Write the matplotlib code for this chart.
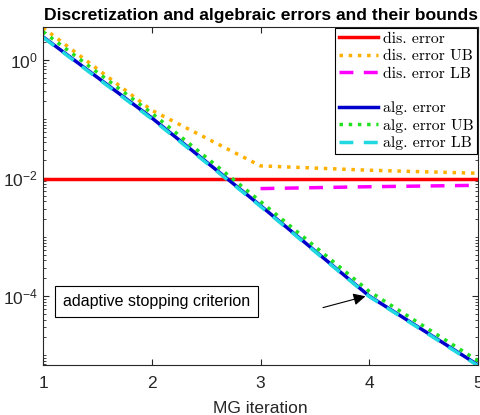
import matplotlib.pyplot as plt
import numpy as np
from matplotlib.ticker import LogLocator, NullFormatter

plt.rcParams['font.family'] = ['Liberation Sans', 'DejaVu Sans']

it = [1, 2, 3, 4, 5]
dis_err = [0.0095, 0.0095, 0.0095, 0.0095, 0.0095]
dis_ub = [3.5, 0.14, 0.016, 0.0135, 0.012]
lb_it = [3, 4, 5]
dis_lb = [0.0066, 0.0071, 0.0075]
alg_err = [2.45, 0.104, 3.4e-3, 1.0e-4, 6.8e-6]
alg_ub = [3.0, 0.125, 4.0e-3, 1.2e-4, 8.0e-6]
alg_lb = [2.4, 0.1, 3.3e-3, 0.98e-4, 6.6e-6]

fig = plt.figure(figsize=(4.81, 4.15), dpi=100)
ax = fig.add_axes([0.0894, 0.1205, 0.9044, 0.8145])

ax.semilogy(it, dis_err, color='red', lw=2.5, label='dis. error')
ax.semilogy(it, dis_ub, color='#FFB000', lw=2.5, ls=':', label='dis. error UB')
ax.semilogy(lb_it, dis_lb, color='#FF00FF', lw=2.5, ls=(0, (4, 3)), label='dis. error LB')
ax.plot([], [], color='none', label=' ')
ax.semilogy(it, alg_err, color='#0000CC', lw=2.5, label='alg. error')
ax.semilogy(it, alg_ub, color='#20E020', lw=2.5, ls=':', label='alg. error UB')
ax.semilogy(it, alg_lb, color='#20D8E0', lw=2.5, ls=(0, (4, 3)), label='alg. error LB')

ax.set_xlim(1, 5)
ax.set_ylim(6.8e-6, 3.6)
ax.set_xticks(it)
ax.yaxis.set_major_locator(LogLocator(base=100))
ax.yaxis.set_minor_locator(LogLocator(base=10, subs=np.arange(1, 10)))
ax.yaxis.set_minor_formatter(NullFormatter())
ax.tick_params(which='both', direction='in', top=True, right=True, labelsize=12.5,
               colors='#262626')
ax.tick_params(axis='x', pad=8)
ax.tick_params(which='major', length=4)
ax.tick_params(which='minor', length=2)
for s in ax.spines.values():
    s.set_color('#262626')

ax.set_xlabel('MG iteration', fontsize=12.5, color='#262626', labelpad=7)
ax.set_title('Discretization and algebraic errors and their bounds', fontsize=12.6,
             fontweight='bold', pad=5)

leg = ax.legend(loc='upper right', prop={'family': 'cmr10', 'size': 11.3}, handlelength=2.5,
                handletextpad=0.3, borderpad=0.25, labelspacing=0.22, borderaxespad=0.05,
                fancybox=False, framealpha=1)
leg.get_frame().set_edgecolor('black')
leg.get_frame().set_linewidth(0.8)

ax.text(1.185, 0.8e-4, 'adaptive stopping criterion', fontsize=11.5, va='center', ha='left',
        bbox=dict(boxstyle='square,pad=0.5', fc='white', ec='black', lw=0.8))
ax.annotate('', xy=(3.99, 1.02e-4), xytext=(3.55, 6.2e-5),
            arrowprops=dict(arrowstyle='-|>', color='black', lw=0.8, mutation_scale=18))

fig.savefig('out.png', dpi=100)
